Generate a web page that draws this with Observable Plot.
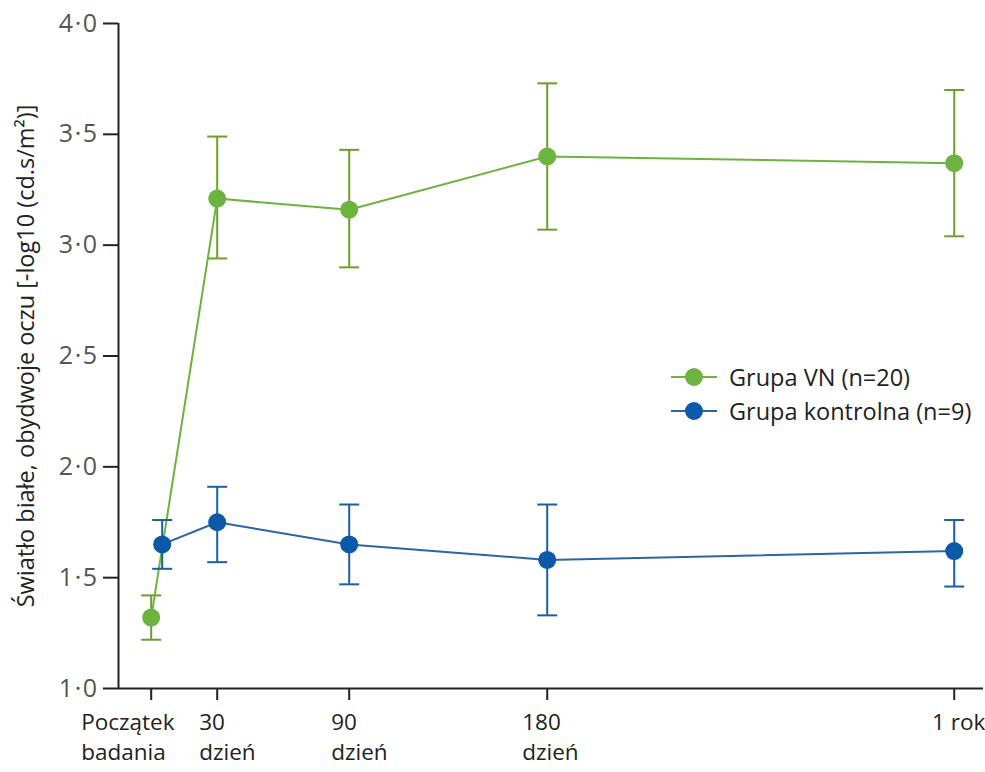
<!DOCTYPE html>
<html>
<head>
<meta charset="utf-8">
<script src="https://cdn.jsdelivr.net/npm/d3@7"></script>
<script src="https://cdn.jsdelivr.net/npm/@observablehq/plot@0.6"></script>
<style>
  html, body { margin: 0; padding: 0; background: #fff; }
  #wrap { position: relative; width: 985px; height: 772px; font-family: "Open Sans", sans-serif; }
  #legend { position: absolute; left: 670px; top: 360px; font-size: 23.5px; color: #222; z-index: 2; }
  .item { display: flex; align-items: center; height: 34px; }
  .item svg { margin-right: 11px; }
</style>
</head>
<body>
<div id="wrap"><div id="legend"></div></div>
<script>
// ---- data ----
const tickDays = [0, 30, 90, 180, 365];
const tickLabels = ["Początek\nbadania", "30\ndzień", "90\ndzień", "180\ndzień", "1 rok"];
const yTicks = [1, 1.5, 2, 2.5, 3, 3.5, 4];
const yLabel = "Światło białe, obydwoje oczu [-log10 (cd.s/m²)]";

const seriesNames = ["Grupa VN (n=20)", "Grupa kontrolna (n=9)"];

const vnDays = [0, 30, 90, 180, 365];
const vnMean = [1.32, 3.21, 3.16, 3.40, 3.37];
const vnLo   = [1.22, 2.94, 2.90, 3.07, 3.04];
const vnHi   = [1.42, 3.49, 3.43, 3.73, 3.70];

const ctrlDays = [5, 30, 90, 180, 365];
const ctrlMean = [1.65, 1.75, 1.65, 1.58, 1.62];
const ctrlLo   = [1.54, 1.57, 1.47, 1.33, 1.46];
const ctrlHi   = [1.76, 1.91, 1.83, 1.83, 1.76];

// ---- styles ----
const green = "#6cb33f", greenBar = "#6f9d2d";
const blue = "#0b59a8", blueBar = "#1c5ea6", blueLine = "#2d64a3";

const vn = vnDays.map((d, i) => ({day: d, mean: vnMean[i], lo: vnLo[i], hi: vnHi[i]}));
const ctrl = ctrlDays.map((d, i) => ({day: d, mean: ctrlMean[i], lo: ctrlLo[i], hi: ctrlHi[i]}));

const capSymbol = {draw(ctx, size) { ctx.moveTo(-10, 0); ctx.lineTo(10, 0); }};
const labelOf = d => tickLabels[tickDays.indexOf(d)];
const fmtY = d => d.toFixed(1).replace(".", "·");

const xDomain = [-14.86, 378.3];

function seriesMarks(data, lineColor, barColor, dotColor) {
  return [
    Plot.ruleX(data, {x: "day", y1: "lo", y2: "hi", stroke: barColor, strokeWidth: 2}),
    Plot.dot(data, {x: "day", y: "lo", symbol: capSymbol, stroke: barColor, strokeWidth: 2, fill: "none"}),
    Plot.dot(data, {x: "day", y: "hi", symbol: capSymbol, stroke: barColor, strokeWidth: 2, fill: "none"}),
    Plot.line(data, {x: "day", y: "mean", stroke: lineColor, strokeWidth: 2}),
    Plot.dot(data, {x: "day", y: "mean", r: 9, fill: dotColor, stroke: "none"})
  ];
}

const xText = {tickSize: 0, tickPadding: 20, fontSize: 22.5, lineHeight: 1.35, fill: "#222", tickFormat: labelOf, label: null};

const chart = Plot.plot({
  width: 985,
  height: 772,
  marginLeft: 118,
  marginRight: 2,
  marginTop: 23,
  marginBottom: 84,
  style: {fontFamily: "Open Sans, sans-serif", background: "#fff"},
  x: {domain: xDomain},
  y: {domain: [1, 4]},
  marks: [
    Plot.axisY({ticks: yTicks, tickFormat: fmtY, tickSize: 15, tickPadding: 5, fontSize: 25, fill: "#555", stroke: "#222", strokeWidth: 2, label: null}),
    Plot.text([yLabel], {frameAnchor: "left", rotate: -90, dx: -92, dy: 0, fontSize: 23.5, fill: "#222", textAnchor: "middle"}),
    Plot.axisX(tickDays, {tickSize: 12, stroke: "#222", strokeWidth: 2, tickFormat: () => null, label: null}),
    Plot.axisX([tickDays[0]], {...xText, textAnchor: "start", dx: -70}),
    Plot.axisX([tickDays[1], tickDays[2]], {...xText, textAnchor: "start", dx: -18}),
    Plot.axisX([tickDays[3]], {...xText, textAnchor: "start", dx: -25}),
    Plot.axisX([tickDays[4]], {...xText, textAnchor: "end", dx: 31}),
    Plot.ruleX([xDomain[0]], {stroke: "#222", strokeWidth: 2}),
    Plot.ruleY([1], {stroke: "#222", strokeWidth: 2}),
    ...seriesMarks(vn, green, greenBar, green),
    ...seriesMarks(ctrl, blueLine, blueBar, blue)
  ]
});

chart.querySelectorAll("g[aria-label='y-axis tick label'] text").forEach(t => t.setAttribute("letter-spacing", "1.5"));

const wrap = document.getElementById("wrap");
chart.style.position = "absolute";
chart.style.left = "0";
chart.style.top = "0";
wrap.insertBefore(chart, wrap.firstChild);

const legend = document.getElementById("legend");
[[seriesNames[0], green, green], [seriesNames[1], blueLine, blue]].forEach(([name, lc, dc]) => {
  const item = document.createElement("div");
  item.className = "item";
  item.innerHTML = `<svg width="48" height="20"><line x1="1" y1="10" x2="47" y2="10" stroke="${lc}" stroke-width="2"/><circle cx="24" cy="10" r="9" fill="${dc}"/></svg><span>${name}</span>`;
  legend.appendChild(item);
});
</script>
</body>
</html>
